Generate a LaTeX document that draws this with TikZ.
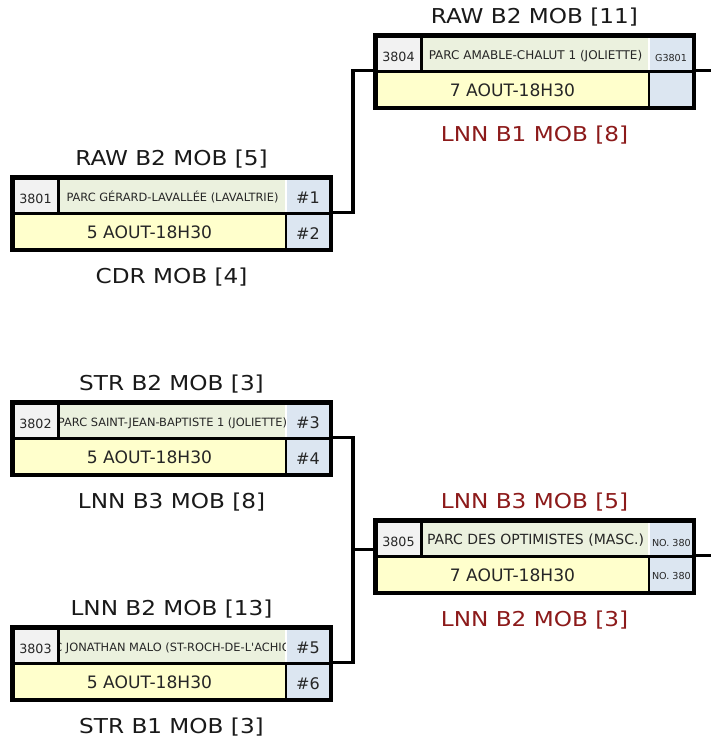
\documentclass[tikz,border=0pt]{standalone}
\usepackage{fontspec}
\setmainfont{DejaVu Sans}[FakeStretch=1.13]
\newfontfamily\cellfont{DejaVu Sans}

\definecolor{cellgray}{HTML}{F2F2F2}
\definecolor{cellgreen}{HTML}{EBF1DE}
\definecolor{cellblue}{HTML}{DCE6F1}
\definecolor{cellyellow}{HTML}{FFFFCC}
\definecolor{loser}{HTML}{8C1A1A}

\newcommand\fsz[1]{\fontsize{#1}{#1}\selectfont}

\tikzset{
    celltext/.style={inner sep=0pt, anchor=base, text=black!85},
    team/.style={inner sep=0pt, anchor=base, font=\fsz{20.5}, text=black!90},
    teamout/.style={team, text=loser},
    link/.style={line width=3.5pt}
}

% #1 name, #2 x, #3 y, #4 game, #5 venue, #6 date, #7 top seed, #8 bottom seed
\newcommand\matchbox[8]{%
    \fill[cellgray] (#2+4,#3+4) rectangle (#2+47,#3+37);
    \fill[cellgreen] (#2+50,#3+4) rectangle (#2+275,#3+37);
    \fill[cellblue] (#2+277,#3+4) rectangle (#2+319,#3+37);
    \fill[cellyellow] (#2+4,#3+40) rectangle (#2+275,#3+73);
    \fill[cellblue] (#2+277,#3+40) rectangle (#2+319,#3+73);
    \draw[line width=3.5pt] (#2+48.5,#3+4) -- (#2+48.5,#3+37);
    \draw[line width=3.5pt] (#2+4,#3+38.5) -- (#2+319,#3+38.5);
    \draw[line width=1.8pt] (#2+276,#3+40) -- (#2+276,#3+73);
    \draw[line width=4.5pt] (#2+2.25,#3+2.25) rectangle (#2+320.75,#3+74.75);
    \node[celltext, font=\cellfont\fsz{12.7}] (#1-num) at (#2+25.5,#3+28) {#4};
    \begin{scope}
        \clip (#2+50,#3+4) rectangle (#2+275,#3+37);
        \node[celltext, font=\cellfont] (#1-venue) at (#2+162.5,#3+26.5) {#5};
    \end{scope}
    \begin{scope}
        \clip (#2+277,#3+4) rectangle (#2+319,#3+37);
        \node[celltext, font=\cellfont] (#1-seedA) at (#2+298,#3+28) {#7};
    \end{scope}
    \begin{scope}
        \clip (#2+277,#3+40) rectangle (#2+319,#3+73);
        \node[celltext, font=\cellfont] (#1-seedB) at (#2+298,#3+64) {#8};
    \end{scope}
    \node[celltext, font=\cellfont\fsz{17.1}] (#1-date) at (#2+139.5,#3+63) {#6};
    \coordinate (#1-in) at (#2,#3+37.5);
    \coordinate (#1-out) at (#2+323,#3+37.5);
    \coordinate (#1-above) at (#2+161.5,#3-10);
    \coordinate (#1-below) at (#2+161.5,#3+108);
}

\begin{document}
\begin{tikzpicture}[x=1pt,y=-1pt]
    \useasboundingbox (0,0) rectangle (711,742);

    % first round
    \matchbox{A}{10}{175}{3801}{\fsz{11.4}PARC GÉRARD-LAVALLÉE (LAVALTRIE)}{5 AOUT-18H30}{\fsz{16}\#1}{\fsz{16}\#2}
    \matchbox{C}{10}{400}{3802}{\fsz{11.4}PARC SAINT-JEAN-BAPTISTE 1 (JOLIETTE)}{5 AOUT-18H30}{\fsz{16}\#3}{\fsz{16}\#4}
    \matchbox{D}{10}{625}{3803}{\fsz{11.4}C JONATHAN MALO (ST-ROCH-DE-L'ACHIG}{5 AOUT-18H30}{\fsz{16}\#5}{\fsz{16}\#6}

    % second round
    \matchbox{B}{373}{33}{3804}{\fsz{12}PARC AMABLE-CHALUT 1 (JOLIETTE)}{7 AOUT-18H30}{\fsz{9.6}G3801}{}
    \matchbox{E}{373}{518}{3805}{\fsz{14}PARC DES OPTIMISTES (MASC.)}{7 AOUT-18H30}{\fsz{9.6}\makebox[38pt][l]{NO. 380}}{\fsz{9.6}\raisebox{3pt}{\makebox[38pt][l]{NO. 380}}}

    % teams
    \node[team] (A-home) at (A-above) {RAW B2 MOB [5]};
    \node[team] (A-away) at (A-below) {CDR MOB [4]};
    \node[team] (C-home) at (C-above) {STR B2 MOB [3]};
    \node[team] (C-away) at (C-below) {LNN B3 MOB [8]};
    \node[team] (D-home) at (D-above) {LNN B2 MOB [13]};
    \node[team] (D-away) at (D-below) {STR B1 MOB [3]};
    \node[team] (B-home) at (B-above) {RAW B2 MOB [11]};
    \node[teamout] (B-away) at (B-below) {LNN B1 MOB [8]};
    \node[teamout] (E-home) at (E-above) {LNN B3 MOB [5]};
    \node[teamout] (E-away) at (E-below) {LNN B2 MOB [3]};

    % bracket lines
    \coordinate (join) at (353,549.5);
    \coordinate (rim) at (711,0);
    \draw[link] (A-out) -- ++(20,0) |- (B-in);
    \draw[link] (C-out) -| (join) |- (D-out);
    \draw[link] (join) -- (join -| E-in);
    \draw[link] (B-out) -- (B-out -| rim);
    \draw[link] (E-out) -- (E-out -| rim);
\end{tikzpicture}
\end{document}
